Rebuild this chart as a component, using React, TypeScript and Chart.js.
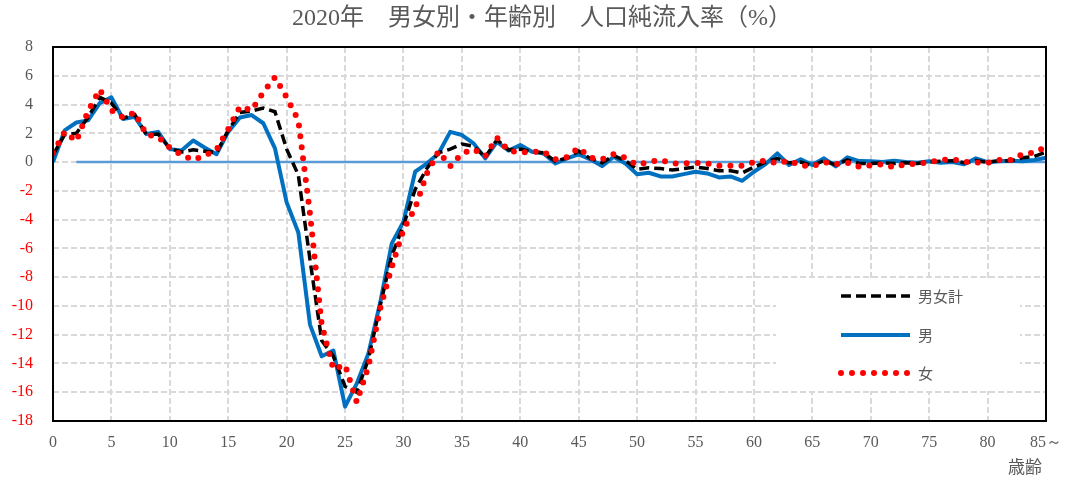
import { useEffect, useRef } from 'react';
import { Chart, registerables } from 'chart.js';

Chart.register(...registerables);

// Age in years (85 = 85 and over)
const ages = [
  0, 1, 2, 3, 4, 5, 6, 7, 8, 9,
  10, 11, 12, 13, 14, 15, 16, 17, 18, 19,
  20, 21, 22, 23, 24, 25, 26, 27, 28, 29,
  30, 31, 32, 33, 34, 35, 36, 37, 38, 39,
  40, 41, 42, 43, 44, 45, 46, 47, 48, 49,
  50, 51, 52, 53, 54, 55, 56, 57, 58, 59,
  60, 61, 62, 63, 64, 65, 66, 67, 68, 69,
  70, 71, 72, 73, 74, 75, 76, 77, 78, 79,
  80, 81, 82, 83, 84, 85,
];

// Net in-migration rate (%) — both sexes
const totalRate = [
  0.5, 1.9, 2.0, 3.1, 4.5, 4.1, 3.05, 3.3, 1.9, 1.95,
  0.95, 0.7, 0.85, 0.75, 0.65, 2.2, 3.45, 3.55, 3.75, 3.5,
  0.9, -0.9, -6.8, -12.4, -13.5, -15.6, -16.0, -13.7, -10.0, -6.5,
  -4.4, -1.9, -0.45, 0.65, 0.9, 1.25, 1.1, 0.35, 1.55, 0.85,
  0.9, 0.72, 0.65, 0.05, 0.3, 0.77, 0.25, -0.05, 0.45, 0.1,
  -0.5, -0.4, -0.45, -0.55, -0.45, -0.35, -0.45, -0.6, -0.6, -0.75,
  -0.35, 0.0, 0.25, -0.05, 0.0, -0.25, 0.1, -0.2, 0.15, -0.1,
  -0.1, -0.05, -0.1, -0.05, -0.1, 0.02, 0.05, 0.1, -0.05, 0.1,
  -0.02, 0.1, 0.1, 0.3, 0.4, 0.7,
];

// Net in-migration rate (%) — male
const maleRate = [
  0.0, 2.2, 2.75, 2.9, 4.1, 4.5, 3.0, 3.15, 1.95, 2.1,
  0.9, 0.8, 1.5, 1.0, 0.55, 2.1, 3.1, 3.27, 2.7, 0.95,
  -2.8, -4.9, -11.3, -13.5, -13.1, -17.0, -15.4, -13.3, -9.8, -5.65,
  -4.15, -0.67, -0.1, 0.6, 2.1, 1.88, 1.3, 0.26, 1.4, 0.8,
  1.18, 0.72, 0.6, -0.1, 0.26, 0.53, 0.19, -0.28, 0.37, -0.1,
  -0.84, -0.74, -1.0, -1.0, -0.84, -0.67, -0.79, -1.07, -1.0, -1.3,
  -0.67, -0.14, 0.6, -0.2, 0.19, -0.2, 0.26, -0.3, 0.33, 0.07,
  0.05, 0.0, 0.1, 0.0, -0.05, 0.05, -0.05, 0.0, -0.15, 0.26,
  0.0, 0.05, 0.1, 0.05, 0.15, 0.3,
];

// Net in-migration rate (%) — female
const femaleRate = [
  0.65, 2.1, 1.45, 3.55, 5.05, 3.6, 3.1, 3.45, 1.9, 1.75,
  1.0, 0.5, 0.15, 0.45, 0.85, 2.3, 3.85, 3.6, 4.85, 5.9,
  4.5, 2.9, -3.6, -11.3, -14.4, -14.1, -16.7, -14.2, -10.2, -7.3,
  -4.7, -3.2, -0.8, 0.75, -0.3, 0.6, 0.9, 0.4, 1.7, 0.8,
  0.65, 0.72, 0.7, 0.2, 0.35, 1.0, 0.3, 0.2, 0.55, 0.3,
  -0.2, 0.0, 0.15, -0.1, -0.1, -0.05, -0.1, -0.25, -0.25, -0.25,
  0.0, 0.1, -0.1, 0.1, -0.25, -0.28, 0.0, -0.15, -0.05, -0.33,
  -0.23, -0.16, -0.37, -0.14, -0.14, 0.0, 0.14, 0.19, 0.02, -0.02,
  -0.05, 0.14, 0.14, 0.56, 0.65, 1.07,
];

const seriesNames = ['男女計', '男', '女'];
const titleText = '2020年　男女別・年齢別　人口純流入率（%）';
const xAxisName = '歳齢';
const lastAgeLabel = '85～';
const zeroLineStartAge = 2;

const GRAY = '#595959';
const NEG = '#ff0000';
const SERIF = "'Liberation Serif', 'DejaVu Serif', serif";
const CJK = "'Noto Sans CJK JP', 'Noto Sans', sans-serif";

const styles = [
  { color: '#000000', width: 3.5, dash: [10, 5], cap: 'butt' as CanvasLineCap },
  { color: '#0070c0', width: 4, dash: [] as number[], cap: 'butt' as CanvasLineCap },
  { color: '#ff0000', width: 6, dash: [0, 11], cap: 'round' as CanvasLineCap },
];

const decorPlugin = {
  id: 'decor',
  beforeDatasetsDraw(chart: any) {
    const { ctx, chartArea: a } = chart;
    // white legend backdrop that hides the grid behind it
    ctx.save();
    ctx.fillStyle = '#ffffff';
    ctx.fillRect(a.right - 270, a.top + 232, 244, 112);
    ctx.restore();
  },
  afterDraw(chart: any) {
    const { ctx, chartArea: a } = chart;
    ctx.save();
    // plot frame
    ctx.strokeStyle = '#000000';
    ctx.lineWidth = 2;
    ctx.setLineDash([]);
    ctx.strokeRect(a.left, a.top, a.right - a.left, a.bottom - a.top);

    // legend entries
    const lx0 = a.right - 205;
    const lx1 = a.right - 136;
    const ys = [a.top + 249, a.top + 288, a.top + 326];
    styles.forEach((s, i) => {
      ctx.beginPath();
      ctx.strokeStyle = s.color;
      ctx.lineWidth = s.width;
      ctx.lineCap = s.cap;
      ctx.setLineDash(s.dash);
      ctx.moveTo(lx0, ys[i]);
      ctx.lineTo(lx1, ys[i]);
      ctx.stroke();
      ctx.setLineDash([]);
      ctx.fillStyle = GRAY;
      ctx.font = `15px ${CJK}`;
      ctx.textAlign = 'left';
      ctx.textBaseline = 'middle';
      ctx.fillText(seriesNames[i], lx1 + 8, ys[i]);
    });

    // title
    ctx.fillStyle = GRAY;
    ctx.font = `24px 'Liberation Serif', ${CJK}`;
    ctx.textAlign = 'center';
    ctx.textBaseline = 'middle';
    ctx.fillText(titleText, 542, 19);

    // x-axis name
    ctx.font = `17px ${CJK}`;
    ctx.textAlign = 'right';
    ctx.fillText(xAxisName, a.right - 4, 467);
    ctx.restore();
  },
};

const noEdgePadding = (scale: any) => {
  scale.paddingLeft = 0;
  scale.paddingRight = 0;
  scale.paddingTop = 0;
  scale.paddingBottom = 0;
};

export default function App() {
  const canvasRef = useRef<HTMLCanvasElement | null>(null);

  useEffect(() => {
    document.body.style.margin = '0';
    const canvas = canvasRef.current;
    if (!canvas) return;

    const zeroLine = ages.map((a) => (a >= zeroLineStartAge ? 0 : null));

    const chart = new Chart(canvas, {
      type: 'line',
      data: {
        labels: ages,
        datasets: [
          {
            label: seriesNames[2],
            data: femaleRate,
            borderColor: styles[2].color,
            borderWidth: styles[2].width,
            borderDash: styles[2].dash,
            borderCapStyle: 'round',
            borderJoinStyle: 'round',
            pointRadius: 0,
            tension: 0,
            fill: false,
          },
          {
            label: seriesNames[0],
            data: totalRate,
            borderColor: styles[0].color,
            borderWidth: styles[0].width,
            borderDash: styles[0].dash,
            pointRadius: 0,
            tension: 0,
            fill: false,
          },
          {
            label: seriesNames[1],
            data: maleRate,
            borderColor: styles[1].color,
            borderWidth: styles[1].width,
            borderJoinStyle: 'round',
            pointRadius: 0,
            tension: 0,
            fill: false,
          },
          {
            label: 'zero',
            data: zeroLine,
            borderColor: '#5b9bd5',
            borderWidth: 2.5,
            pointRadius: 0,
            tension: 0,
            fill: false,
          },
        ],
      },
      options: {
        animation: false,
        responsive: false,
        maintainAspectRatio: false,
        layout: { padding: { top: 47, right: 19, bottom: 0, left: 0 } },
        plugins: {
          legend: { display: false },
          title: { display: false },
          tooltip: { enabled: false },
        },
        scales: {
          x: {
            type: 'linear',
            min: 0,
            max: 85,
            afterFit: (scale: any) => {
              scale.height = 58;
              noEdgePadding(scale);
            },
            ticks: {
              stepSize: 5,
              autoSkip: false,
              maxRotation: 0,
              padding: 12,
              color: GRAY,
              font: { family: SERIF, size: 16 },
              callback: (v: any) => (Number(v) === 85 ? lastAgeLabel : String(v)),
            },
            grid: { color: '#d9d9d9', lineWidth: 2, drawTicks: false },
            border: { display: false, dash: [6, 3] },
          },
          y: {
            min: -18,
            max: 8,
            afterFit: (scale: any) => {
              scale.width = 53;
              noEdgePadding(scale);
            },
            ticks: {
              stepSize: 2,
              padding: 20,
              color: (c: any) => (c.tick && c.tick.value < 0 ? NEG : GRAY),
              font: { family: SERIF, size: 16 },
            },
            grid: { color: '#d9d9d9', lineWidth: 2, drawTicks: false },
            border: { display: false, dash: [6, 3] },
          },
        },
      },
      plugins: [decorPlugin],
    });

    return () => chart.destroy();
  }, []);

  return (
    <div style={{ width: 1065, height: 479 }}>
      <canvas ref={canvasRef} width={1065} height={479} />
    </div>
  );
}
